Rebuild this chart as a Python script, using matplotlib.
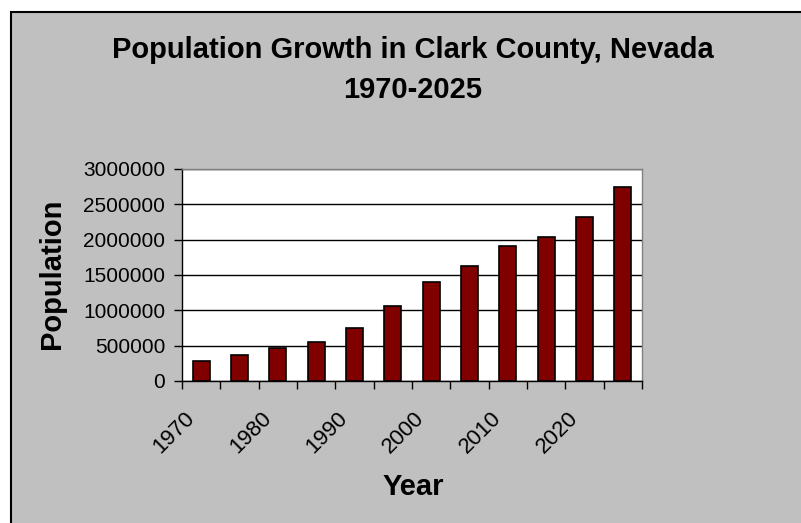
import matplotlib.pyplot as plt
from matplotlib.patches import Rectangle
import numpy as np

plt.rcParams['font.family'] = ['Liberation Sans', 'DejaVu Sans']

# data
years = [1970, 1975, 1980, 1985, 1990, 1995, 2000, 2005, 2010, 2015, 2020, 2025]
population = [278000, 361000, 468000, 556000, 755000, 1065000,
              1402000, 1626000, 1907000, 2037000, 2327000, 2748000]
label_years = ['1970', '1980', '1990', '2000', '2010', '2020']

W, H = 801, 523
fig = plt.figure(figsize=(W / 100, H / 100), dpi=100)
fig.patch.set_facecolor('white')

# gray chart area with black border on top / left (right / bottom run off the image)
bg = Rectangle((10.5 / W, -0.05), 1.2, (H - 11.5) / H + 0.05, transform=fig.transFigure,
               facecolor='#C0C0C0', edgecolor='black', linewidth=1.5, zorder=-10)
fig.patches.append(bg)

left, right, top, bottom = 182, 642, 169, 381
ax = fig.add_axes([left / W, 1 - bottom / H, (right - left) / W, (bottom - top) / H])
ax.set_facecolor('white')

x = np.arange(len(years))
ax.bar(x, population, width=0.45, color='#800000', edgecolor='black', linewidth=1.2, zorder=3)

ax.set_xlim(-0.5, len(years) - 0.5)
ax.set_ylim(0, 3000000)
ax.set_yticks(np.arange(0, 3000001, 500000))
ax.set_yticklabels([str(v) for v in range(0, 3000001, 500000)], fontsize=15)
ax.yaxis.grid(True, color='black', linewidth=1)
ax.set_axisbelow(True)

# tick marks between categories, labels every other category
ax.xaxis.remove_overlapping_locs = False
ax.set_xticks(np.arange(-0.5, len(years), 1))
ax.set_xticklabels([])
ax.set_xticks(x[::2] - 0.45, minor=True)
ax.set_xticklabels(label_years, minor=True, fontsize=16, rotation=45,
                   ha='right', va='top', rotation_mode='anchor')
ax.tick_params(axis='x', which='minor', length=0, pad=19)
ax.tick_params(axis='x', which='major', length=6, width=1, direction='out')
ax.tick_params(axis='y', length=6, width=1, direction='out', pad=6)

for side in ['top', 'right']:
    ax.spines[side].set_color('#808080')
    ax.spines[side].set_linewidth(1)
for side in ['left', 'bottom']:
    ax.spines[side].set_color('black')
    ax.spines[side].set_linewidth(1)

fig.text(413 / W, 1 - 50 / H, 'Population Growth in Clark County, Nevada',
         ha='center', va='center', fontsize=21, fontweight='bold')
fig.text(413 / W, 1 - 90 / H, '1970-2025', ha='center', va='center',
         fontsize=21, fontweight='bold')
fig.text(52 / W, 1 - 274 / H, 'Population', ha='center', va='center', rotation=90,
         fontsize=21, fontweight='bold')
fig.text(413 / W, 1 - 487 / H, 'Year', ha='center', va='center',
         fontsize=21, fontweight='bold')

fig.savefig('out.png', dpi=100)
